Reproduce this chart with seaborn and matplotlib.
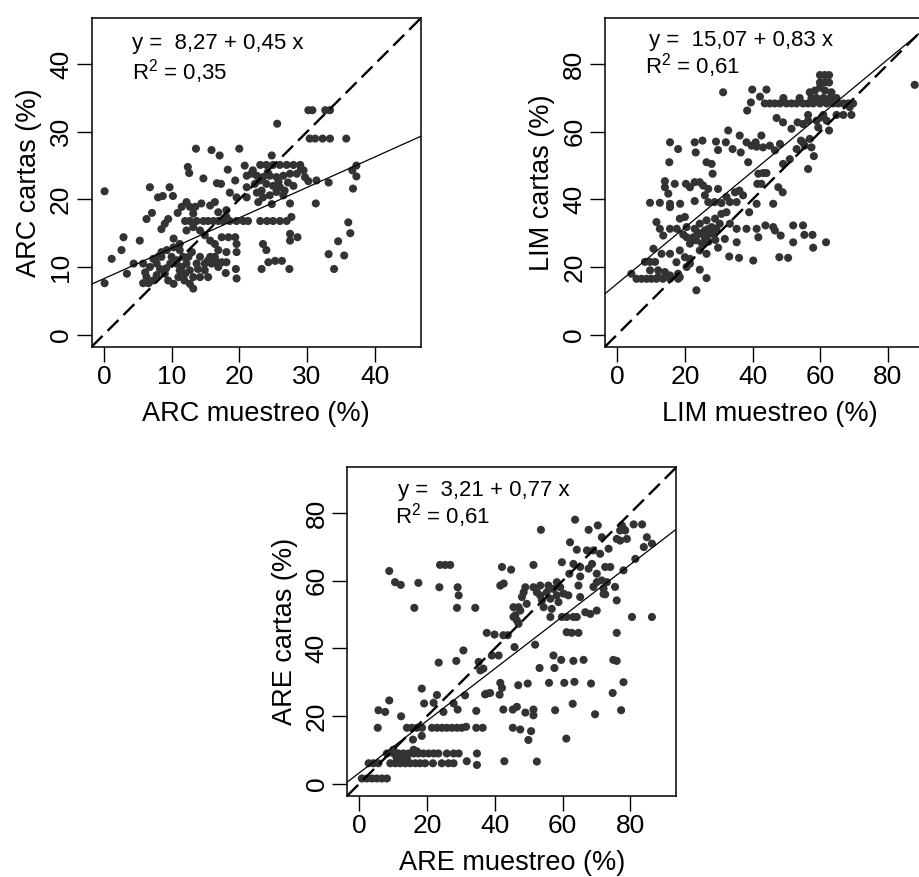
import matplotlib
matplotlib.use("Agg")
import matplotlib.pyplot as plt
import numpy as np
import pandas as pd
import seaborn as sns

# ---------------- data ----------------
arc_pts = [
    (30.2,33.2),(30.8,33.2),(32.7,33.2),(33.4,33.2),(25.6,31.2),
    (30.4,29.0),(31.2,29.0),(32.3,29.0),(33.4,29.0),(35.8,29.0),
    (13.6,27.5),(15.9,27.3),(17.1,26.5),(20.0,27.5),(24.8,26.5),
    (20.8,25.0),(23.1,25.1),(24.0,25.1),(25.0,25.1),(26.0,25.1),(27.0,25.1),(28.0,25.1),(29.0,25.1),(29.1,24.5),
    (12.4,24.8),(12.6,23.9),(18.3,24.4),(14.7,23.1),(16.7,22.4),(17.3,22.3),(19.4,22.8),
    (21.1,23.5),(21.8,23.8),(22.6,23.5),(23.5,23.3),(24.5,23.5),(25.5,23.3),(26.5,23.5),(27.5,23.8),
    (28.5,23.8),(29.5,24.3),(29.7,23.3),(30.2,22.7),(31.4,22.8),(33.2,22.5),
    (21.1,21.8),(22.3,22.3),(23.3,21.3),(24.0,22.3),(25.0,22.0),(26.0,21.8),(26.7,21.3),(25.5,21.1),
    (24.5,20.6),(26.5,20.6),(23.5,20.3),(24.8,19.3),(22.8,19.6),(27.5,19.4),(21.1,20.3),(19.6,20.3),
    (22.0,24.3),(23.0,22.8),(24.2,24.0),(25.8,22.6),(27.2,22.5),(28.0,22.0),(22.6,21.0),
    (37.3,25.0),(36.7,24.3),(37.3,23.4),(36.8,21.6),(31.3,19.4),
    (6.8,21.8),(9.7,21.8),(8.0,20.3),(8.7,20.5),(10.2,20.5),(0.1,21.2),
    (12.2,19.6),(12.7,18.9),(11.5,18.9),(13.5,18.9),(13.2,17.9),(15.7,19.1),(16.4,19.6),(18.6,21.0),(18.1,18.4),
    (6.3,17.1),(7.1,18.0),(9.5,17.1),(10.9,18.0),(8.5,15.6),(9.0,16.4),(14.4,19.4),
    (12.0,16.8),(12.7,16.8),(13.7,16.8),(14.7,16.8),(15.4,16.8),(16.2,16.8),(16.9,16.8),(17.6,16.8),
    (18.6,16.8),(19.6,16.8),(20.6,16.8),(21.3,16.8),(23.1,16.8),(24.1,16.8),(25.0,16.8),(26.0,16.8),(27.0,16.8),
    (27.7,17.4),(18.1,17.4),(16.9,18.1),
    (2.9,14.4),(5.3,13.9),(2.6,12.5),(1.15,11.2),
    (10.3,14.2),(11.2,13.4),(12.2,15.4),(13.2,15.9),(14.2,15.4),(14.9,14.7),(15.7,13.9),(16.4,13.4),
    (17.4,14.4),(18.4,14.4),(19.4,14.4),(19.6,13.4),(16.9,12.5),(15.7,11.5),(18.1,12.2),(19.6,12.2),
    (23.5,13.4),(24.0,12.5),(27.5,14.9),(27.5,13.9),(28.6,14.4),(36.1,16.6),(36.4,15.0),(34.6,13.8),
    (33.2,11.9),(35.5,11.7),(34.0,9.7),
    (4.4,10.5),(3.4,9.0),(5.8,10.5),(6.1,9.2),(6.8,10.0),(6.3,8.5),(5.8,7.6),(6.6,7.6),(7.3,8.0),
    (7.8,8.8),(8.3,9.7),(8.5,11.5),(8.5,12.2),(9.3,12.5),(10.0,11.5),(9.8,10.5),(9.0,9.0),(9.5,8.0),
    (10.3,7.5),(11.0,8.5),(11.2,9.5),(10.7,10.5),(11.7,11.5),(12.2,10.5),(12.7,9.5),(13.2,8.5),
    (12.7,7.5),(13.2,6.8),(11.9,8.0),(13.7,10.5),(14.2,11.5),(13.9,9.7),(12.5,11.5),(11.2,12.5),
    (10.3,12.9),(8.0,11.5),(7.3,11.2),(7.8,10.5),(14.9,10.5),(15.4,11.0),(15.9,10.5),(16.7,10.7),
    (17.4,10.7),(18.1,10.7),(16.9,10.0),(14.9,9.5),(14.2,8.5),(15.4,8.5),(16.4,11.5),
    (10.8,11.0),(12.0,9.0),(11.5,10.0),(9.2,9.8),(13.0,12.2),
    (18.0,9.1),(19.5,9.7),(19.6,8.3),(23.3,9.7),(24.3,10.7),(25.3,10.9),(26.3,10.9),(27.4,9.7),(0.1,7.6),
]

lim_pts = [
    (59.9,76.8),(61.3,76.8),(62.6,76.8),(59.9,74.6),(61.3,74.6),(62.6,74.6),(87.9,73.9),
    (31.3,71.7),(39.9,72.5),(44.1,72.5),(42.2,70.4),(39.5,68.7),(38.4,66.3),
    (43.6,68.4),(45.1,68.4),(46.6,68.4),(48.1,68.4),(50.0,68.4),(51.5,68.4),(53.0,68.4),(54.9,68.4),
    (56.4,68.4),(57.9,68.4),(59.9,68.4),(61.9,68.4),(63.8,68.4),(65.3,68.4),(66.8,68.4),(68.3,68.4),(69.7,68.4),
    (49.1,70.0),(53.9,70.0),(57.4,70.0),(58.9,70.0),(60.9,70.0),(62.8,70.0),(64.8,70.0),(68.7,67.3),
    (56.9,71.7),(58.4,72.2),(61.4,72.2),(63.3,71.7),(59.9,73.1),
    (64.8,65.0),(66.8,65.0),(69.2,65.0),(60.9,65.0),(58.9,63.3),(56.4,65.0),(53.3,62.8),(49.0,62.8),
    (47.1,64.1),(51.5,60.9),(54.9,62.3),(56.4,63.3),(59.4,61.3),(62.6,60.4),(61.9,63.3),(60.4,64.3),
    (54.3,57.4),(55.4,55.9),(56.9,57.9),(57.4,55.4),(58.1,52.8),(56.4,49.0),(54.9,56.9),(51.0,51.9),
    (49.0,50.5),(53.0,54.9),
    (15.6,56.9),(18.0,54.9),(22.9,56.9),(25.2,57.4),(23.2,53.9),(29.2,57.1),(32.1,56.9),(34.1,54.9),
    (32.8,60.4),(36.2,58.9),(36.5,53.9),(38.2,56.9),(39.7,55.9),(41.2,55.6),(42.6,58.9),(43.1,55.4),
    (45.1,55.9),(46.6,54.5),(48.1,56.4),(29.8,54.6),(40.9,56.9),
    (15.4,51.0),(26.4,51.0),(27.9,50.5),(38.7,51.0),
    (28.2,47.6),(41.7,47.6),(43.1,47.8),(44.1,47.8),(42.6,44.6),(41.4,44.6),(47.6,43.6),(48.9,42.1),
    (14.1,45.4),(17.0,44.6),(14.1,43.6),(15.1,41.7),(20.3,44.6),(21.5,43.6),(22.9,45.1),(24.4,45.1),
    (25.4,44.1),(26.9,43.1),(25.9,41.2),(29.8,43.1),
    (9.7,39.0),(12.6,39.0),(15.6,38.7),(18.6,38.7),(15.6,37.7),(22.9,39.5),(26.9,39.2),(28.8,39.2),
    (30.8,38.9),(32.3,40.7),(33.3,39.2),(34.8,42.1),(36.1,42.6),(37.2,41.2),(35.3,39.2),(39.0,36.2),
    (41.2,38.7),(46.1,38.7),
    (11.6,33.3),(12.6,31.3),(15.6,31.3),(13.6,29.3),(18.5,34.3),(20.0,34.8),(17.6,31.3),(20.5,31.8),
    (22.9,31.3),(24.4,32.8),(26.4,33.8),(28.9,34.3),(30.8,35.7),(32.3,36.2),(30.3,32.8),(27.9,31.8),
    (25.9,30.8),(24.4,29.8),(22.5,28.8),(20.5,28.8),(19.5,29.6),(21.5,26.9),(23.3,27.9),(25.9,28.8),
    (27.4,29.8),(29.3,31.3),(31.8,28.3),(33.3,32.8),(35.3,31.3),(38.2,31.3),(41.2,31.3),(41.7,28.8),
    (43.8,32.3),(46.1,31.8),(46.6,30.8),(48.3,29.3),(52.0,32.3),(52.0,27.3),(54.9,32.3),(55.3,29.5),
    (57.7,29.5),(57.9,25.7),(61.7,27.3),
    (23.8,30.2),(26.8,31.2),(28.3,30.0),(25.0,27.0),(27.0,27.5),(29.0,28.0),
    (35.3,27.3),(33.1,23.1),(36.0,22.7),(40.2,21.9),(47.9,22.9),(50.5,22.7),
    (24.4,24.9),(26.4,23.9),(29.8,25.7),(15.6,23.9),(18.5,24.9),(20.0,22.9),(21.5,22.4),(17.5,21.4),
    (13.1,23.9),(10.7,25.4),
    (8.2,21.5),(9.7,21.5),(11.2,21.5),(12.1,19.0),(14.1,18.5),(15.6,17.5),(18.0,18.0),(18.0,16.5),
    (15.6,16.5),(4.2,18.0),(5.7,16.5),(7.2,16.5),(8.7,16.5),(10.1,16.5),(11.6,16.5),(9.7,19.0),
    (12.1,17.0),(13.5,16.5),(18.5,17.0),
    (23.4,13.1),(24.4,19.2),(26.4,16.7),(20.5,20.0),(21.5,21.0),
]

are_pts = [
    (63.7,78.1),(53.6,75.1),(67.7,75.1),(70.4,76.4),(77.5,76.4),(78.0,75.4),(77.0,74.9),(78.5,74.9),
    (81.0,76.7),(83.5,76.7),(71.6,72.9),(76.0,72.4),(77.0,71.9),(79.0,72.4),(73.6,69.5),(71.1,68.0),
    (69.1,69.0),(62.2,71.4),(64.2,69.2),(67.2,69.0),(84.9,72.9),(84.0,70.0),(86.4,71.0),(81.5,66.5),
    (78.0,63.1),(74.1,64.1),(72.6,64.1),(68.7,65.0),(67.7,63.6),(65.2,64.1),(63.2,65.0),(59.8,65.5),
    (62.0,62.1),(65.2,61.3),(70.1,62.1),(71.6,60.1),(73.1,59.6),(70.1,59.6),(69.1,58.2),(72.1,57.7),
    (72.1,56.1),(72.6,56.0),(75.5,58.2),(76.0,54.2),(64.7,58.6),(65.2,55.2),(66.7,50.7),(68.2,50.2),
    (70.1,51.2),(63.2,49.3),(64.2,49.3),(59.8,49.3),(61.2,49.3),(61.2,44.8),(62.7,44.6),(64.7,44.6),
    (80.5,49.3),(86.4,49.3),(76.0,44.6),
    (51.4,58.1),(53.4,58.6),(55.8,58.6),(58.3,59.6),(59.3,58.1),(57.3,57.6),(55.3,56.6),(53.4,55.7),
    (52.4,56.6),(53.9,54.2),(56.4,54.7),(58.3,55.7),(60.3,56.2),(61.7,55.7),(58.8,53.7),(54.4,52.2),
    (56.8,51.7),(56.4,49.3),(49.0,58.1),(48.5,56.6),(48.0,55.2),(49.4,53.2),(45.5,52.2),(47.0,52.2),
    (46.0,49.8),(45.5,49.3),(46.5,48.3),(47.0,47.3),(47.5,51.2),(41.6,58.6),(42.6,59.2),(42.1,64.1),
    (44.8,63.3),(51.4,64.7),(37.6,44.6),(39.9,44.1),(42.5,43.9),(43.8,43.9),(45.8,40.4),(51.9,41.1),
    (41.1,37.9),(39.1,37.9),(35.2,36.0),(36.6,34.0),(35.7,33.5),(30.7,39.4),(28.6,36.3),(23.4,35.8),
    (34.2,52.0),(28.8,52.0),(29.3,55.7),(29.0,58.1),(23.6,58.1),(17.4,59.4),(23.8,64.7),(25.3,64.7),
    (26.8,64.7),(8.8,62.9),(10.5,59.6),(12.2,58.8),(16.2,52.0),
    (57.3,37.9),(59.6,36.6),(63.2,36.3),(66.2,36.6),(75.0,36.6),(76.0,36.3),(53.2,34.2),(57.6,34.2),
    (56.0,29.8),(60.5,29.8),(63.5,30.1),(68.4,29.6),(78.0,30.0),(74.8,26.8),(41.6,29.8),(42.1,28.3),
    (41.4,26.3),(37.6,26.6),(46.9,29.1),(49.7,29.6),(45.3,21.9),(46.5,22.7),(49.0,21.0),(51.4,21.9),
    (51.4,20.2),(42.5,21.9),(45.3,16.5),(47.5,16.0),(50.7,15.5),(49.9,12.9),(42.8,6.6),(52.4,6.5),
    (57.8,21.7),(63.0,23.6),(69.6,20.5),(77.3,21.7),(61.1,13.3),
    (18.4,28.1),(19.1,23.7),(21.9,23.9),(24.8,21.2),(22.9,26.2),
    (14.0,16.5),(15.5,16.5),(17.0,16.5),(18.5,16.5),(21.4,16.5),(22.9,16.5),(24.4,16.5),(25.8,16.5),
    (27.3,16.5),(28.8,16.5),(30.2,16.5),(31.5,16.8),(34.5,16.5),(36.4,16.5),
    (5.4,16.5),(5.6,21.7),(7.6,21.2),(8.8,24.6),(12.3,19.9),(15.8,13.0),(18.4,14.1),(29.0,21.9),
    (34.5,21.5),(31.2,26.1),(27.8,23.7),(37.1,26.4),(38.6,26.8),
    (8.1,8.9),(10.1,8.9),(11.5,8.9),(13.0,8.9),(14.5,8.9),(16.0,8.9),(17.4,8.9),(18.9,8.9),(20.4,8.9),
    (21.9,8.9),(23.3,8.9),(25.8,8.9),(27.8,8.9),(29.3,8.9),
    (9.1,6.0),(10.6,6.0),(12.0,6.0),(13.5,6.0),(15.0,6.0),(16.5,6.0),(17.9,6.0),(19.4,6.0),(21.7,6.0),
    (24.3,6.0),(26.3,6.0),(27.8,6.0),(2.7,6.0),(4.1,6.0),(5.6,6.0),
    (11.0,7.5),(12.5,7.5),(14.0,7.5),(16.0,10.0),(17.0,9.5),(10.0,10.0),
    (0.7,1.5),(2.2,1.5),(3.7,1.5),(5.1,1.5),(6.6,1.5),(8.1,1.5),
    (31.7,6.6),(34.7,5.5),(34.7,8.9),
]

panel_names = ["ARC", "LIM", "ARE"]
intercepts = [8.27, 15.07, 3.21]
slopes = [0.45, 0.83, 0.77]
r2_values = ["0,35", "0,61", "0,61"]
eq_texts = ["y =  8,27 + 0,45 x", "y =  15,07 + 0,83 x", "y =  3,21 + 0,77 x"]
x_labels = ["ARC muestreo (%)", "LIM muestreo (%)", "ARE muestreo (%)"]
y_labels = ["ARC cartas (%)", "LIM cartas (%)", "ARE cartas (%)"]
axis_max = [45, 90, 90]
tick_sets = [[0, 10, 20, 30, 40], [0, 20, 40, 60, 80], [0, 20, 40, 60, 80]]

# ---------------- style ----------------
sns.set_theme(style="ticks")
plt.rcParams["font.family"] = ["Liberation Sans", "DejaVu Sans"]
plt.rcParams["mathtext.fontset"] = "custom"
plt.rcParams["mathtext.rm"] = "Liberation Sans"
plt.rcParams["mathtext.it"] = "Liberation Sans:italic"

W, H = 920, 877
fig = plt.figure(figsize=(W / 100, H / 100), dpi=100)
fig.patch.set_facecolor("white")

boxes = [(91.7, 346.7), (605.0, 346.7), (347.3, 795.7)]
BW, BH = 329.0, 328.4
eq_pos = [((4.1, 43.0), (4.1, 38.9)), ((9.5, 86.9), (8.2, 79.6)), ((11.5, 86.7), (10.5, 79.3))]

all_pts = [arc_pts, lim_pts, are_pts]
for i in range(3):
    left, bottom = boxes[i]
    ax = fig.add_axes([left / W, 1 - bottom / H, BW / W, BH / H])
    df = pd.DataFrame(all_pts[i], columns=["x", "y"])
    sns.scatterplot(data=df, x="x", y="y", ax=ax, color="#333333", s=34,
                    linewidth=0, edgecolor="none", legend=False, zorder=3)
    m = axis_max[i]
    pad = 0.04 * m
    ax.set_xlim(-pad, m + pad)
    ax.set_ylim(-pad, m + pad)
    ax.axline((0, 0), slope=1, color="black", lw=1.7, dashes=(6.5, 3.0), zorder=4)
    ax.axline((0, intercepts[i]), slope=slopes[i], color="black", lw=0.9, zorder=4)
    ax.set_xticks(tick_sets[i])
    ax.set_yticks(tick_sets[i])
    ax.set_xticklabels([str(t) for t in tick_sets[i]])
    ax.set_yticklabels([str(t) for t in tick_sets[i]], rotation=90, va="center")
    ax.tick_params(direction="out", length=10.5, width=1.0, colors="black",
                   labelsize=19, pad=3)
    for sp in ax.spines.values():
        sp.set_visible(True)
        sp.set_color("black")
        sp.set_linewidth(1.1)
    ax.set_xlabel(x_labels[i], fontsize=19.5, color="black", labelpad=8)
    ax.set_ylabel(y_labels[i], fontsize=19.5, color="black", labelpad=5)
    ax.set_facecolor("white")
    ax.grid(False)
    (ex, ey), (rx, ry) = eq_pos[i]
    ax.text(ex, ey, eq_texts[i], fontsize=16, ha="left", va="center", color="black")
    ax.text(rx, ry, r"R$^2$ = " + r2_values[i], fontsize=16, ha="left", va="center", color="black")

fig.savefig("out.png", dpi=100, facecolor="white")
